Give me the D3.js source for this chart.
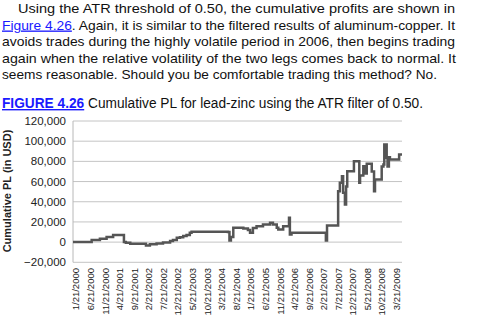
<!DOCTYPE html>
<html>
<head>
<meta charset="utf-8">
<script src="https://cdn.jsdelivr.net/npm/d3@7"></script>
<style>
  body { margin: 0; background: #fff; }
  svg { display: block; font-family: "Liberation Sans", Arial, sans-serif; }
</style>
</head>
<body>
<svg id="chart" width="499" height="335"></svg>
<script>
// Cumulative PL series, step values
const pointDates = [
  '1999-12-21', '2000-07-03', '2000-09-27', '2000-12-06', '2001-02-12', '2001-06-05',
  '2001-06-25', '2001-08-10', '2002-01-21', '2002-03-03', '2002-05-12', '2002-07-18',
  '2002-09-30', '2002-10-30', '2002-12-09', '2003-01-11', '2003-02-14', '2003-03-21',
  '2003-04-24', '2003-05-12', '2004-05-26', '2004-06-11', '2004-06-26', '2004-07-21',
  '2004-11-03', '2004-12-21', '2005-01-12', '2005-02-11', '2005-03-21', '2005-05-27',
  '2005-08-09', '2005-09-08', '2005-10-18', '2005-11-03', '2005-12-24', '2006-02-23',
  '2006-03-04', '2006-03-21', '2007-03-04', '2007-03-15', '2007-03-27', '2007-07-21',
  '2007-08-08', '2007-08-30', '2007-09-11', '2007-09-30', '2007-10-12', '2007-10-24',
  '2008-01-02', '2008-02-27', '2008-03-06', '2008-04-09', '2008-04-27', '2008-05-15',
  '2008-07-06', '2008-07-30', '2008-08-09', '2008-10-18', '2008-11-05', '2008-11-14',
  '2008-12-09', '2008-12-18', '2009-01-01', '2009-01-12', '2009-04-18', '2009-05-18'
];
const pointValues = [
  0, 2000, 3400, 5000, 7000, 0,
  -600, -1600, -3300, -2200, -1400, -400,
  1000, 2000, 4400, 4900, 6000, 7000,
  9300, 10300, 10000, 1700, 5000, 14200,
  13500, 12000, 9300, 14000, 15800, 17500,
  19200, 17500, 14200, 12600, 15800, 24100,
  7600, 9300, 9300, 1700, 16500, 50500,
  58800, 65300, 48900, 37300, 55000, 70300,
  80200, 58800, 66000, 75200, 68000, 77600,
  70000, 50500, 62000, 75000, 77000, 96700,
  83500, 75000, 84000, 81900, 86800, 86800
];

const yTicks = [-20000, 0, 20000, 40000, 60000, 80000, 100000, 120000];
const xTickLabels = [
  '1/21/2000', '6/21/2000', '11/21/2000', '4/21/2001', '9/21/2001', '2/21/2002',
  '7/21/2002', '12/21/2002', '5/21/2003', '10/21/2003', '3/21/2004', '8/21/2004',
  '1/21/2005', '6/21/2005', '11/21/2005', '4/21/2006', '9/21/2006', '2/21/2007',
  '7/21/2007', '12/21/2007', '5/21/2008', '10/21/2008', '3/21/2009'
];

const paragraph = [
  'Using the ATR threshold of 0.50, the cumulative profits are shown in',
  '. Again, it is similar to the filtered results of aluminum-copper. It',
  'avoids trades during the highly volatile period in 2006, then begins trading',
  'again when the relative volatility of the two legs comes back to normal. It',
  'seems reasonable. Should you be comfortable trading this method? No.'
];

const svg = d3.select('#chart');
const linkColor = '#1a1aff';

// Body text above the figure
const lineX = [18, 2, 2, 2, 2];
const lineLen = [437, 453, 453, 454, 435];
const lineY = [13, 29.5, 46, 62.7, 79.3];
paragraph.forEach((t, i) => {
  const txt = svg.append('text')
    .attr('x', lineX[i])
    .attr('y', lineY[i])
    .attr('font-size', 13.3)
    .attr('fill', '#111')
    .attr('textLength', lineLen[i])
    .attr('lengthAdjust', 'spacingAndGlyphs');
  if (i === 1) {
    txt.append('tspan').attr('fill', linkColor).attr('text-decoration', 'underline').text('Figure 4.26');
    txt.append('tspan').text(t);
  } else {
    txt.text(t);
  }
});

// Figure caption
const cap = svg.append('text')
  .attr('x', 2)
  .attr('y', 108)
  .attr('font-size', 14)
  .attr('fill', '#111')
  .attr('textLength', 421)
  .attr('lengthAdjust', 'spacingAndGlyphs');
cap.append('tspan').attr('fill', linkColor).attr('font-weight', 'bold')
  .attr('text-decoration', 'underline').text('FIGURE 4.26');
cap.append('tspan').text(' Cumulative PL for lead-zinc using the ATR filter of 0.50.');

// Scales
const parse = d3.timeParse('%Y-%m-%d');
const x = d3.scaleTime()
  .domain([parse('1999-12-21'), parse('2009-05-18')])
  .range([73, 402]);
const y = d3.scaleLinear()
  .domain([-20000, 120000])
  .range([262.3, 121]);

// Grid lines
svg.append('g')
  .selectAll('line')
  .data(yTicks)
  .join('line')
  .attr('x1', 73)
  .attr('x2', 402)
  .attr('y1', d => y(d))
  .attr('y2', d => y(d))
  .attr('stroke', '#c4c4c4')
  .attr('stroke-width', 1);

// Left axis line
svg.append('line')
  .attr('x1', 73).attr('x2', 73)
  .attr('y1', y(120000)).attr('y2', y(-20000))
  .attr('stroke', '#b8b8b8');

// Y tick labels
const fmt = d3.format(',');
svg.append('g')
  .selectAll('text')
  .data(yTicks)
  .join('text')
  .attr('x', 66)
  .attr('y', d => y(d) + 4)
  .attr('text-anchor', 'end')
  .attr('font-size', 11.5)
  .attr('fill', '#222')
  .text(d => fmt(d));

// X tick labels
const labelParse = d3.timeParse('%m/%d/%Y');
svg.append('g')
  .selectAll('text')
  .data(xTickLabels)
  .join('text')
  .attr('transform', d => `translate(${x(labelParse(d)) + 3.5},268) rotate(-90)`)
  .attr('text-anchor', 'end')
  .attr('font-size', 9.5)
  .attr('fill', '#222')
  .text(d => d);

// Y axis title
svg.append('text')
  .attr('transform', 'translate(11,191) rotate(-90)')
  .attr('text-anchor', 'middle')
  .attr('font-size', 11)
  .attr('font-weight', 'bold')
  .attr('fill', '#222')
  .text('Cumulative PL (in USD)');

// PL line
const series = pointDates.map((d, i) => ({ date: parse(d), value: pointValues[i] }));
const line = d3.line()
  .x(d => x(d.date))
  .y(d => y(d.value))
  .curve(d3.curveStepAfter);

svg.append('path')
  .datum(series)
  .attr('d', line)
  .attr('fill', 'none')
  .attr('stroke', '#555')
  .attr('stroke-width', 2.5)
  .attr('stroke-linejoin', 'miter');
</script>
</body>
</html>
